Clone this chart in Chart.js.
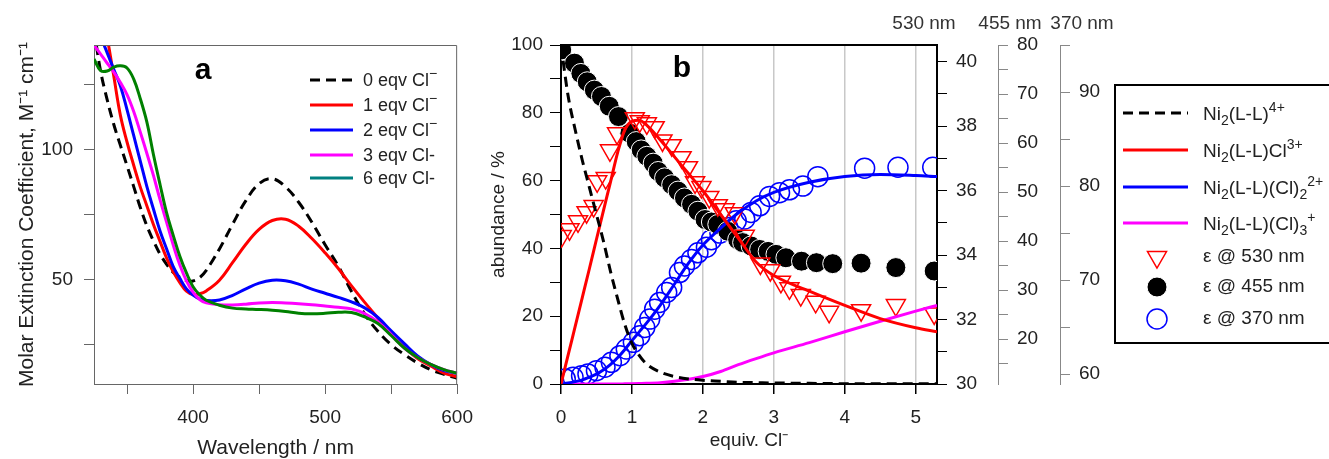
<!DOCTYPE html>
<html>
<head>
<meta charset="utf-8">
<script src="https://cdn.jsdelivr.net/npm/chart.js@4.4.1/dist/chart.umd.min.js"></script>
<style>
  html, body { margin: 0; padding: 0; background: #fff; }
  #wrap { position: relative; width: 1329px; height: 459px; overflow: hidden; }
  #chartA { position: absolute; left: 0; top: 0; }
  #chartB { position: absolute; left: 480px; top: 0; }
</style>
</head>
<body>
<div id="wrap">
  <canvas id="chartA" width="485" height="459"></canvas>
  <canvas id="chartB" width="849" height="459"></canvas>
</div>
<script>
// ---------- panel a : absorption spectra ----------
const wavelengths = [325, 330, 335, 340, 345, 350, 355, 360, 365, 370, 375, 380, 385, 390, 395, 400, 405, 410,
  420, 430, 440, 450, 460, 470, 480, 490, 500, 510, 520, 530, 540, 550, 560, 570, 580, 590, 600];
const eqv0 = [146, 130, 119, 109.5, 101.5, 93.7, 85.8, 77.8, 70.7, 64.9, 59.8, 55.9, 52.8, 50.9, 49.7, 49.5, 50.8, 53.6,
  61.8, 71.3, 80.3, 86.8, 88.7, 85.6, 79.7, 72, 63.4, 55.2, 45.5, 36.8, 30.2, 25.1, 21.3, 18.1, 15.5, 13.7, 12.2];
const eqv1 = [172, 158, 143, 128, 113, 102.8, 94, 85.6, 78.4, 71.2, 64.7, 58.3, 53, 48.9, 45.6, 44.3, 44.6, 45.7,
  49.8, 56.6, 63.6, 69.3, 72.7, 73.2, 70.5, 65.8, 60.3, 54.3, 47.6, 41.3, 35.3, 29.1, 24.1, 19.8, 16.9, 14.2, 12.8];
const eqv2 = [150, 143.3, 137, 130.6, 124.3, 115.2, 105.4, 95.6, 85.8, 77.1, 68.7, 61.8, 55, 50.5, 46.5, 44.1, 42.6, 42,
  42.2, 44, 46.5, 48.7, 49.8, 49.6, 48.3, 46.4, 44.8, 43.2, 41.5, 39.2, 35.5, 30.4, 25.5, 20.8, 17.5, 15.1, 14.1];
const eqv3 = [140, 136.5, 133, 129.6, 125.6, 121, 114.6, 106.7, 98.5, 90, 80.7, 72, 63.3, 55.6, 49.6, 45.2, 42.4, 41.1,
  40.4, 40.3, 40.6, 41.1, 41.3, 41.1, 40.8, 40.4, 39.9, 39.4, 38.8, 37, 33.8, 29, 23.8, 20.2, 17.5, 15.5, 14.1];
const eqv6 = [134.6, 130.2, 130, 131.5, 132, 131.2, 127, 119.5, 110.5, 98, 86.5, 75.6, 67, 59, 52.6, 47.3, 44.2, 42.1,
  40.2, 39.1, 38.8, 38.6, 38.3, 37.8, 37.1, 36.9, 37.1, 37.5, 37.4, 35.7, 33.2, 28.6, 23.8, 20.2, 17.5, 15.5, 14.1];
const spectraLabels = ['0 eqv Cl^{\u2212}', '1 eqv Cl^{\u2212}', '2 eqv Cl^{\u2212}', '3 eqv Cl-', '6 eqv Cl-'];
const aXTicks = [350, 400, 450, 500, 550, 600];
const aXLabels = [400, 500, 600];
const aYTicks = [25, 50, 75, 100, 125];
const aYLabels = [50, 100];

// ---------- panel b : titration ----------
const eqModel = [0, 0.1, 0.2, 0.3, 0.4, 0.5, 0.6, 0.7, 0.8, 0.9, 1.0, 1.1, 1.2, 1.4, 1.6, 1.8, 2.0, 2.25, 2.5, 2.75,
  3.0, 3.5, 4.0, 4.5, 5.0, 5.3];
const ni4 = [100, 85, 75, 66, 58, 50, 42, 33, 25, 17.5, 12, 8.5, 6, 3.5, 2.2, 1.5, 1.1, 0.8, 0.5, 0.4,
  0.3, 0.2, 0.1, 0.1, 0.05, 0.05];
const ni3 = [0, 8.5, 17, 25.5, 34, 42.7, 51.3, 59.8, 68.4, 75, 77.5, 77.8, 76.5, 72, 67, 62, 57, 50, 43, 36,
  32, 27.4, 23.2, 19.3, 16.6, 15.4];
const ni2 = [0, 0.3, 0.7, 1.2, 2, 2.9, 4.2, 5.8, 7.8, 10.2, 12.8, 15.3, 17.8, 23.3, 29.5, 35.7, 41, 46, 50.5, 54,
  56.5, 59.5, 61.2, 61.8, 61.5, 61.2];
const ni1 = [0, 0, 0, 0, 0, 0, 0, 0, 0, 0.05, 0.1, 0.15, 0.2, 0.4, 0.8, 1.4, 2.2, 3.7, 5.7, 7.5,
  9.2, 12.2, 15.4, 18.5, 21.5, 23.2];
const speciesLabels = ['Ni_{2}(L-L)^{4+}', 'Ni_{2}(L-L)Cl^{3+}', 'Ni_{2}(L-L)(Cl)_{2}^{2+}', 'Ni_{2}(L-L)(Cl)_{3}^{+}'];

const eq530 = [0.01, 0.12, 0.24, 0.36, 0.46, 0.51, 0.63, 0.69, 0.79, 1.04, 1.11, 1.21, 1.32, 1.43, 1.56, 1.70, 1.79,
  1.89, 1.98, 2.09, 2.21, 2.31, 2.45, 2.59, 2.81, 2.95, 3.10, 3.22, 3.38, 3.59, 3.78, 4.23, 4.72, 5.26];
const eps530 = [34.59, 34.80, 35.05, 35.33, 35.52, 36.29, 36.39, 37.25, 37.78, 38.25, 38.15, 38.09, 37.97, 37.56, 37.41,
  37.04, 36.73, 36.26, 36.11, 35.80, 35.55, 35.42, 35.30, 34.6, 33.74, 33.53, 33.17, 32.97, 32.76, 32.55, 32.24,
  32.29, 32.45, 32.19];
const eq455 = [0.01, 0.19, 0.28, 0.37, 0.47, 0.57, 0.68, 0.81, 0.97, 1.06, 1.13, 1.21, 1.30, 1.37, 1.46, 1.56, 1.65,
  1.74, 1.84, 1.93, 2.03, 2.12, 2.21, 2.35, 2.49, 2.56, 2.68, 2.80, 2.92, 3.03, 3.17, 3.39, 3.60, 3.83, 4.23, 4.72, 5.26];
const eps455 = [79, 76.3, 74.2, 72.5, 70.8, 69.5, 67.5, 65.4, 62.0, 60.3, 58.6, 57.3, 55.9, 54.2, 52.9, 51.5, 50.2,
  48.8, 47.5, 46.1, 44.4, 43.9, 43.4, 42.0, 40.3, 39.7, 39.0, 38.3, 37.9, 37.3, 36.6, 35.9, 35.6, 35.4, 35.5, 34.6, 33.9];
const eq370 = [0.06, 0.17, 0.29, 0.38, 0.50, 0.62, 0.71, 0.83, 0.92, 1.02, 1.11, 1.18, 1.25, 1.32, 1.39, 1.49, 1.56,
  1.67, 1.74, 1.84, 1.93, 2.05, 2.12, 2.24, 2.35, 2.47, 2.59, 2.68, 2.80, 2.94, 3.08, 3.22, 3.41, 3.62, 4.28, 4.75, 5.24];
const eps370 = [59.49, 59.67, 59.84, 60.02, 60.37, 60.73, 61.26, 61.96, 62.67, 63.38, 64.08, 64.97, 65.85, 66.91, 67.62,
  68.68, 69.22, 70.8, 71.5, 72.2, 72.9, 73.5, 74.3, 75.0, 75.6, 76.3, 76.5, 77.2, 77.9, 78.9, 79.3, 79.6, 80.0, 81.0,
  81.9, 82.0, 82.0];
const markerLabels = ['\u03b5 @ 530 nm', '\u03b5 @ 455 nm', '\u03b5 @ 370 nm'];
const rightAxisNames = ['530 nm', '455 nm', '370 nm'];

const bXTicks = [0, 1, 2, 3, 4, 5];
const bYTicks = [0, 10, 20, 30, 40, 50, 60, 70, 80, 90, 100];
const bYLabels = [0, 20, 40, 60, 80, 100];
const b530Ticks = [30, 31, 32, 33, 34, 35, 36, 37, 38, 39, 40];
const b530Labels = [30, 32, 34, 36, 38, 40];
const b455Ticks = [15, 20, 25, 30, 35, 40, 45, 50, 55, 60, 65, 70, 75, 80];
const b455Labels = [20, 30, 40, 50, 60, 70, 80];
const b370Ticks = [60, 65, 70, 75, 80, 85, 90, 95];
const b370Labels = [60, 70, 80, 90];

const FONT = "'Liberation Sans', Arial, sans-serif";
Chart.defaults.font.family = FONT;
Chart.defaults.color = '#222';

// draws "Ni_{2}(L-L)^{4+}" style text with sub/superscripts
function drawRich(ctx, str, x, y, size) {
  const re = /([_^])\{([^}]*)\}|([^_^]+)/g;
  let m;
  ctx.textAlign = 'left';
  ctx.textBaseline = 'middle';
  while ((m = re.exec(str))) {
    let t = m[3], fs = size, dy = 0;
    if (m[1]) {
      t = m[2];
      fs = Math.round(size * 0.75);
      dy = m[1] === '_' ? size * 0.33 : -size * 0.38;
    }
    ctx.font = fs + 'px ' + FONT;
    ctx.fillText(t, x, y + dy);
    x += ctx.measureText(t).width;
  }
}

function drawMarker(ctx, ds, x, y) {
  ctx.save();
  ctx.lineWidth = ds.pointBorderWidth;
  ctx.strokeStyle = ds.pointBorderColor;
  ctx.fillStyle = ds.pointBackgroundColor;
  const r = ds.pointRadius;
  ctx.beginPath();
  if (ds.pointStyle === 'triangle') {
    for (let k = 0; k < 3; k++) {
      const ang = (ds.pointRotation + k * 120) * Math.PI / 180;
      const px = x + Math.sin(ang) * r, py = y - Math.cos(ang) * r;
      if (k) ctx.lineTo(px, py); else ctx.moveTo(px, py);
    }
    ctx.closePath();
  } else {
    ctx.arc(x, y, r, 0, Math.PI * 2);
  }
  ctx.fill();
  ctx.stroke();
  ctx.restore();
}

function fixedTicks(list) {
  return scale => { scale.ticks = list.map(v => ({ value: v })); };
}
function labelsOnly(list) {
  return v => (list.includes(v) ? String(v) : '');
}

// ----- chart a -----
const spectra = [eqv0, eqv1, eqv2, eqv3, eqv6];
const spectraColors = ['#000000', '#ff0000', '#0000ff', '#ff00ff', '#008000'];
const legendAColors = ['#000000', '#ff0000', '#0000ff', '#ff00ff', '#008080'];

const decorA = {
  id: 'decorA',
  afterDraw(chart) {
    const { ctx, chartArea: a } = chart;
    ctx.save();
    ctx.strokeStyle = '#666';
    ctx.lineWidth = 1;
    ctx.beginPath();
    ctx.moveTo(a.left, a.top + 0.5);
    ctx.lineTo(a.right - 0.5, a.top + 0.5);
    ctx.lineTo(a.right - 0.5, a.bottom);
    ctx.stroke();

    ctx.fillStyle = '#000';
    ctx.font = 'bold 30px ' + FONT;
    ctx.textAlign = 'center';
    ctx.textBaseline = 'middle';
    ctx.fillText('a', 203, 71);

    const rows = [80, 105, 130, 155, 178];
    spectraLabels.forEach((lab, i) => {
      ctx.strokeStyle = legendAColors[i];
      ctx.lineWidth = 3;
      ctx.setLineDash(i === 0 ? [10, 6] : []);
      ctx.beginPath();
      ctx.moveTo(310, rows[i]);
      ctx.lineTo(353, rows[i]);
      ctx.stroke();
      ctx.setLineDash([]);
      ctx.fillStyle = '#222';
      drawRich(ctx, lab, 363, rows[i] + 1, 18);
    });
    ctx.restore();
  }
};

new Chart(document.getElementById('chartA'), {
  type: 'line',
  data: {
    datasets: spectra.map((vals, i) => ({
      label: spectraLabels[i],
      data: wavelengths.map((w, k) => ({ x: w, y: vals[k] })),
      borderColor: spectraColors[i],
      borderWidth: 3,
      borderDash: i === 0 ? [10, 6] : [],
      pointRadius: 0,
      tension: 0.4,
      fill: false,
      order: 4 - i
    }))
  },
  options: {
    responsive: false,
    devicePixelRatio: 1,
    animation: false,
    layout: { padding: { left: 0, top: 45, right: 15, bottom: 0 } },
    plugins: { legend: { display: false }, tooltip: { enabled: false } },
    scales: {
      x: {
        type: 'linear', min: 325, max: 600,
        afterBuildTicks: fixedTicks(aXTicks),
        afterFit: s => { s.height = 75; },
        ticks: { callback: labelsOnly(aXLabels), autoSkip: false, maxRotation: 0, padding: 12, font: { size: 19 } },
        grid: { drawOnChartArea: false, color: '#666', tickLength: 10 },
        border: { color: '#666', width: 1 },
        title: { display: true, text: 'Wavelength / nm', font: { size: 21, lineHeight: 1 }, padding: { top: 0, bottom: 0 } }
      },
      y: {
        min: 10, max: 140,
        afterBuildTicks: fixedTicks(aYTicks),
        afterFit: s => { s.width = 94; },
        ticks: { callback: labelsOnly(aYLabels), autoSkip: false, padding: 11, font: { size: 19 } },
        grid: { drawOnChartArea: false, color: '#666', tickLength: 10 },
        border: { color: '#666', width: 1 },
        title: { display: true, text: 'Molar Extinction Coefficient, M\u207b\u00b9 cm\u207b\u00b9', font: { size: 21, lineHeight: 1 }, padding: { top: 17, bottom: 0 } }
      }
    }
  },
  plugins: [decorA]
});

// ----- chart b -----
const species = [ni4, ni3, ni2, ni1];
const speciesColors = ['#000000', '#ff0000', '#0000ff', '#ff00ff'];

const decorB = {
  id: 'decorB',
  afterDraw(chart) {
    const { ctx, chartArea: a } = chart;
    const ds = chart.data.datasets;
    ctx.save();
    ctx.strokeStyle = '#000';
    ctx.lineWidth = 2;
    ctx.beginPath();
    ctx.moveTo(a.left - 1, a.top);
    ctx.lineTo(a.right + 1, a.top);
    ctx.stroke();

    ctx.fillStyle = '#000';
    ctx.font = 'bold 30px ' + FONT;
    ctx.textAlign = 'center';
    ctx.textBaseline = 'middle';
    ctx.fillText('b', 202, 69);

    ctx.fillStyle = '#333';
    ctx.font = '19px ' + FONT;
    const nameX = [chart.scales.y530.left - 13, chart.scales.y455.left + 12, chart.scales.y370.left + 22];
    rightAxisNames.forEach((t, i) => ctx.fillText(t, nameX[i], 24));

    // legend
    ctx.lineWidth = 2;
    ctx.strokeStyle = '#000';
    ctx.strokeRect(635, 85, 260, 258);
    const lineRows = [113, 150, 187, 223];
    speciesLabels.forEach((lab, i) => {
      ctx.strokeStyle = ds[i].borderColor;
      ctx.lineWidth = 3;
      ctx.setLineDash(ds[i].borderDash);
      ctx.beginPath();
      ctx.moveTo(643, lineRows[i]);
      ctx.lineTo(708, lineRows[i]);
      ctx.stroke();
      ctx.setLineDash([]);
      ctx.fillStyle = '#222';
      drawRich(ctx, lab, 723, lineRows[i] + 2, 19);
    });
    const markRows = [257, 287, 319];
    markerLabels.forEach((lab, i) => {
      drawMarker(ctx, ds[4 + i], 677, markRows[i]);
      ctx.fillStyle = '#222';
      drawRich(ctx, lab, 723, markRows[i], 19);
    });
    ctx.restore();
  }
};

const lineSets = species.map((vals, i) => ({
  label: speciesLabels[i],
  data: eqModel.map((x, k) => ({ x: x, y: vals[k] })),
  yAxisID: 'y',
  showLine: true,
  borderColor: speciesColors[i],
  borderWidth: 3,
  borderDash: i === 0 ? [10, 6] : [],
  pointRadius: 0,
  cubicInterpolationMode: 'monotone',
  order: 0
}));

const markerSets = [
  {
    label: markerLabels[0],
    data: eq530.map((x, k) => ({ x: x, y: eps530[k] })),
    yAxisID: 'y530',
    pointStyle: 'triangle', pointRotation: 180, pointRadius: 11,
    pointBorderColor: '#ff0000', pointBackgroundColor: 'rgba(0,0,0,0)', pointBorderWidth: 1.5
  },
  {
    label: markerLabels[1],
    data: eq455.map((x, k) => ({ x: x, y: eps455[k] })),
    yAxisID: 'y455',
    pointStyle: 'circle', pointRotation: 0, pointRadius: 10,
    pointBorderColor: '#ffffff', pointBackgroundColor: '#000000', pointBorderWidth: 1
  },
  {
    label: markerLabels[2],
    data: eq370.map((x, k) => ({ x: x, y: eps370[k] })),
    yAxisID: 'y370',
    pointStyle: 'circle', pointRotation: 0, pointRadius: 10,
    pointBorderColor: '#0000ff', pointBackgroundColor: 'rgba(0,0,0,0)', pointBorderWidth: 1.5
  }
].map(d => Object.assign(d, { showLine: false, order: 1 }));

const rightAxis = (min, max, ticks, labels, color, bw, width) => ({
  position: 'right', min: min, max: max,
  afterBuildTicks: fixedTicks(ticks),
  afterFit: s => { s.width = width; },
  ticks: { callback: labelsOnly(labels), autoSkip: false, padding: 9, font: { size: 19 } },
  grid: { drawOnChartArea: false, color: color, tickLength: 10 },
  border: { color: color, width: bw }
});

new Chart(document.getElementById('chartB'), {
  type: 'scatter',
  data: { datasets: lineSets.concat(markerSets) },
  options: {
    responsive: false,
    devicePixelRatio: 1,
    animation: false,
    layout: { padding: { left: 0, top: 45, right: 217, bottom: 0 } },
    plugins: { legend: { display: false }, tooltip: { enabled: false } },
    scales: {
      x: {
        type: 'linear', min: 0, max: 5.3,
        afterBuildTicks: fixedTicks(bXTicks),
        afterFit: s => { s.height = 75; },
        ticks: { autoSkip: false, maxRotation: 0, padding: 12, font: { size: 19 } },
        grid: {
          color: c => (c.tick && c.tick.value === 0 ? 'rgba(0,0,0,0)' : '#c8c8c8'),
          lineWidth: 1.5, tickColor: '#000', tickLength: 10
        },
        border: { color: '#000', width: 2 },
        title: { display: true, text: 'equiv. Cl\u207b', font: { size: 19, lineHeight: 1 }, padding: { top: 0, bottom: 9 } }
      },
      y: {
        position: 'left', min: 0, max: 100,
        afterBuildTicks: fixedTicks(bYTicks),
        afterFit: s => { s.width = 81; },
        ticks: { callback: labelsOnly(bYLabels), autoSkip: false, padding: 7, font: { size: 19 } },
        grid: { drawOnChartArea: false, color: '#000', tickLength: 11 },
        border: { color: '#000', width: 2 },
        title: { display: true, text: 'abundance / %', font: { size: 19, lineHeight: 1 }, padding: { top: 9, bottom: 0 } }
      },
      y530: rightAxis(30, 40.52, b530Ticks, b530Labels, '#000', 2, 61),
      y455: rightAxis(10.85, 80, b455Ticks, b455Labels, '#888', 1, 62),
      y370: rightAxis(58.95, 95, b370Ticks, b370Labels, '#888', 1, 52)
    }
  },
  plugins: [decorB]
});
</script>
</body>
</html>
